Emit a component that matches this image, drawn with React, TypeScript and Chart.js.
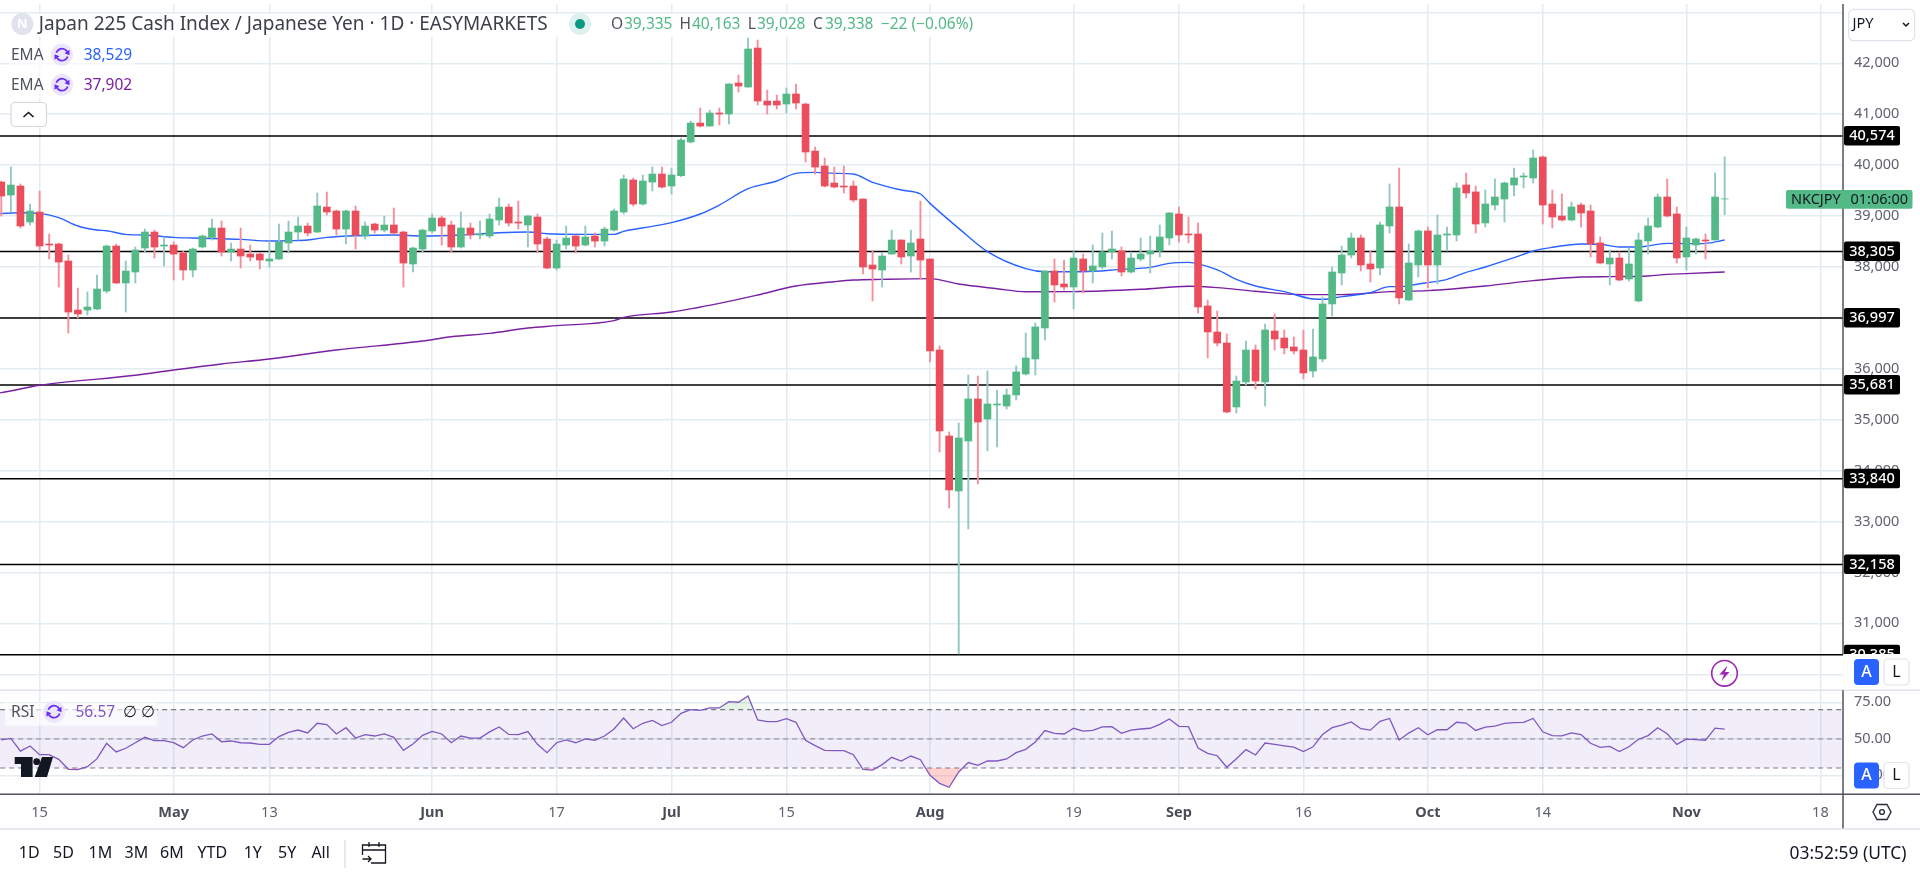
import React, { useEffect, useRef } from "react";
import { Chart, registerables } from "chart.js";

Chart.register(...registerables);

const FONT = '"Noto Sans", sans-serif';

// First candle index; tick positions are bars counted from 15 Apr.
const firstBar = -4;

const opens = [39668,39413,39590,38883,39079,38451,38451,38117,37154,37154,37174,37527,38411,37685,37901,38372,38686,38411,38431,38274,37940,38392,38581,38765,38293,38352,38254,38254,38117,38156,38470,38686,38804,38686,39177,39099,38745,39099,38608,38843,38725,38824,38686,38058,38352,38706,38961,38824,38392,38765,38627,38608,38922,39177,38883,38824,38981,38549,37979,38431,38608,38431,38608,38509,38725,39079,39708,39236,39668,39825,39590,39793,40454,40827,40768,41024,41004,41613,41534,42300,41259,41259,41200,41397,41200,40277,39983,39649,39590,39590,39334,38038,37940,38254,38529,38215,38549,38156,36370,34680,33600,34582,35407,35014,35289,35270,35486,35898,36193,36801,37921,37666,37607,38157,37921,38000,38294,38314,37901,38157,38255,38314,38569,39041,38648,38648,37234,36723,36507,35250,35741,36369,35741,36743,36605,36428,36369,35957,36193,37273,37882,38235,38569,38059,37980,38805,39178,37351,38039,38707,38039,38628,38628,39610,39473,38864,39217,39335,39610,39767,39748,40160,39237,39001,38923,39217,39099,38471,38059,38176,37764,37332,38510,38785,39374,39041,38196,38432,38530,38530,39335];
const highs = [39688,39963,39629,39236,39491,38647,38470,38234,37586,37508,37842,38431,38451,38117,38392,38745,38725,38588,38490,38313,38372,38627,38942,38902,38470,38765,38431,38274,38509,38843,38902,38981,38863,39452,39472,39118,39118,39197,38883,38863,39000,39158,38706,38392,38745,39040,39000,38902,39079,38863,38902,39040,39354,39236,39295,39020,39040,38588,38529,38804,38627,38804,38667,38784,39138,39806,39747,39806,39963,39963,39943,40533,40866,41122,41083,41122,41600,41770,42497,42457,41475,41377,41515,41593,41220,40356,40140,39963,39983,39688,39340,38313,38274,38725,38535,38725,39295,38160,36448,34759,34936,35879,35859,35957,35584,35604,36055,36703,36900,37930,38157,38137,38301,38255,38432,38667,38707,38392,38294,38569,38608,38825,39070,39178,38982,38864,37351,37135,36684,35859,36546,36468,36880,37076,36762,36625,36762,36782,37410,37999,38412,38667,38628,38314,38883,39630,39944,38451,38726,38785,39021,38785,39649,39846,39590,39512,39728,39669,39944,39846,40298,40180,39512,39433,39276,39257,39217,38589,38333,38294,38373,38667,38962,39433,39728,39178,38785,38569,38648,39846,40163];
const lows = [39000,39079,38765,38824,38333,38156,37606,36702,36997,37056,37160,37488,37675,37115,37685,38293,38176,38018,37743,37743,37802,38372,38529,38215,38117,37979,38117,37959,37999,38150,38274,38529,38608,38680,39020,38627,38451,38352,38549,38667,38686,38647,37606,37901,38293,38667,38431,38293,38372,38549,38549,38568,38824,38804,38745,38392,38293,37960,37940,38352,38274,38411,38392,38411,38706,39040,39197,39216,39491,39550,39433,39773,40434,40749,40760,40788,40808,41436,41530,41181,41004,41102,41024,41102,40061,39825,39570,39550,39452,39275,37861,37331,37606,38250,38058,37901,37763,36134,34366,33266,30399,32854,33738,34386,34464,35211,35388,35878,35878,36566,37312,37548,37175,37489,37685,37960,38157,37823,37882,38117,37882,38196,38432,38491,38471,37096,36212,36448,35132,35132,35682,35603,35270,36369,36291,36291,35800,35839,36134,37037,37646,38176,37921,37705,37842,38667,37273,37340,37803,37587,37666,38314,38510,39355,38667,38785,39119,38883,39394,39551,39649,38844,38766,38903,38903,38785,38196,38059,37646,37725,37725,37312,38255,38766,38982,38078,37941,38255,38157,38525,39028];
const closes = [39393,39609,38804,39099,38411,38431,38097,37115,37076,37213,37567,38411,37685,37920,38333,38686,38392,38431,38254,37940,38352,38608,38765,38293,38352,38215,38195,38136,38156,38490,38686,38804,38667,39197,39079,38745,39099,38627,38804,38725,38824,38667,38077,38372,38725,38961,38804,38392,38765,38627,38647,38942,39177,38863,38863,39000,38451,37979,38451,38568,38411,38588,38509,38745,39099,39727,39236,39688,39825,39570,39806,40493,40827,40768,41024,41004,41593,41554,42281,41259,41181,41181,41397,41220,40258,39963,39590,39570,39570,39315,37999,37960,38215,38529,38195,38470,38136,36350,34779,33620,34641,35407,34955,35309,35309,35486,35938,36212,36821,37921,37646,37607,38176,37921,38019,38294,38353,37901,38176,38255,38314,38589,39060,38628,38628,37214,36723,36507,35152,35760,36369,35760,36762,36585,36409,36350,35918,36232,37273,37901,38235,38569,38039,37960,38825,39178,37391,38078,38707,38039,38628,38648,39551,39453,38844,39237,39374,39649,39748,39787,40140,39217,38982,38923,39178,39060,38451,38078,38176,37744,38059,38530,38805,39374,39001,38176,38569,38550,38510,39374,39338];

const ema50Bars = [-5,-2,0,2,4,6,7,9,11,14,16,21,24,26,28,30,33,37,40,44,48,51,53,57,60,61,64,66,69,71,74,77,79,81,83,85,87,90,92,93,96,99,103,105,109,113,116,118,120,123,125,127,130,133,134,136,139,141,142,144,145,147,149,151,154,156,158,161,163,165,167,170,172,174,176];
const ema50Values = [39040,39066,39053,38968,38804,38725,38712,38640,38627,38581,38568,38542,38509,38516,38529,38581,38614,38627,38608,38627,38673,38686,38653,38640,38640,38699,38798,38870,39040,39217,39537,39688,39839,39858,39839,39825,39662,39511,39433,39249,38758,38300,37966,37907,37907,37953,37992,38071,38091,37941,37757,37626,37515,37371,37365,37417,37495,37613,37613,37666,37692,37757,37895,38000,38183,38314,38386,38451,38445,38392,38392,38464,38458,38464,38529];

const ema200Bars = [-5,-4,0,10,14,19,24,31,40,43,47,51,54,60,61,66,71,75,79,83,85,88,93,96,100,103,108,115,120,123,127,132,136,141,145,151,156,161,164,168,170,172,176];
const ema200Values = [35510,35531,35676,35872,35976,36094,36192,36369,36546,36630,36696,36801,36847,36945,37010,37115,37285,37449,37626,37711,37743,37757,37770,37665,37573,37512,37515,37561,37620,37594,37522,37456,37456,37515,37535,37626,37731,37803,37810,37823,37855,37869,37902];

const rsiValues = [49.2,50.3,41.6,45.1,39.1,39.1,35.9,29.1,28.9,30.9,36.4,46.9,41.0,43.5,47.3,51.0,48.7,48.7,47.3,43.9,49.2,51.9,53.3,48.0,48.5,47.3,47.1,46.2,46.2,51.5,54.4,56.0,54.0,60.6,59.7,53.3,57.6,50.5,52.8,51.9,53.3,51.0,42.1,46.4,52.4,55.1,53.3,47.3,51.9,50.5,50.5,54.7,58.1,53.0,52.8,54.9,46.2,40.5,47.3,49.2,47.3,49.9,49.0,51.9,56.7,64.2,56.9,60.6,62.6,59.0,61.3,67.4,69.9,69.5,71.1,71.1,75.4,75.0,79.3,62.9,61.7,61.7,63.8,61.3,49.0,45.3,42.1,41.9,41.9,39.1,29.1,28.6,32.3,37.3,34.8,38.2,35.7,25.0,19.5,16.8,27.3,33.7,31.8,34.8,34.8,36.2,40.5,42.8,47.8,55.6,53.7,53.3,57.2,55.3,55.8,58.1,58.3,53.7,56.0,56.7,57.2,59.9,63.6,58.5,58.3,43.7,40.0,38.4,30.5,36.4,42.6,38.9,47.1,46.2,45.2,44.3,41.3,44.5,52.9,57.6,59.4,61.5,56.9,55.9,62.0,63.9,49.2,53.9,57.6,52.7,56.2,56.2,61.3,60.8,55.7,58.0,58.7,60.6,61.1,61.3,63.9,54.8,52.2,52.0,54.1,52.9,46.9,44.1,44.8,41.3,44.5,49.7,52.2,57.6,53.4,46.2,49.7,49.4,49.0,57.3,56.57];

const levels = [40574, 38305, 36997, 35681, 33840, 32158, 30385];
const priceTicks = [30000,31000,32000,33000,34000,35000,36000,37000,38000,39000,40000,41000,42000,43000];
const unlabelledPriceTicks = [43000];
const rsiTicks = [25, 50, 75];
const dateTickBars = [0,14,24,41,54,66,78,93,108,119,132,145,157,172,186];
const dateTickLabels = ["15","May","13","Jun","17","Jul","15","Aug","19","Sep","16","Oct","14","Nov","18"];
const monthLabels = ["May","Jun","Jul","Aug","Sep","Oct","Nov"];
const rangeButtons = ["1D","5D","1M","3M","6M","YTD","1Y","5Y","All"];

const GREEN = "#53b987";
const RED = "#eb4d5c";
const GREEN_WICK = "#93c7c2";
const RED_WICK = "#f4909e";
const GRID = "#e3ecf1";
const AXIS = "#50535e";
const TEXT = "#131722";
const GREY = "#5f626d";
const SEP = "#e0e3eb";

const fmt = (v: number) => v.toLocaleString("en-US");

function text(ctx: any, s: string, x: number, y: number, color: string, size: number, weight = "normal", align = "left") {
  ctx.font = `${weight} ${size}px ${FONT}`;
  ctx.fillStyle = color;
  ctx.textAlign = align;
  ctx.textBaseline = "middle";
  ctx.fillText(s, x, y);
}

function roundRect(ctx: any, x: number, y: number, w: number, h: number, r: number, fill?: string, stroke?: string) {
  ctx.beginPath();
  ctx.roundRect(x, y, w, h, r);
  if (fill) { ctx.fillStyle = fill; ctx.fill(); }
  if (stroke) { ctx.strokeStyle = stroke; ctx.lineWidth = 1.2; ctx.stroke(); }
}

function reloadIcon(ctx: any, cx: number, cy: number) {
  ctx.beginPath();
  ctx.arc(cx, cy, 11, 0, Math.PI * 2);
  ctx.fillStyle = "#ece6fb";
  ctx.fill();
  ctx.strokeStyle = "#6a2df5";
  ctx.fillStyle = "#6a2df5";
  ctx.lineWidth = 1.8;
  ctx.beginPath();
  ctx.arc(cx, cy, 6, Math.PI * 1.1, Math.PI * 1.85);
  ctx.stroke();
  ctx.beginPath();
  ctx.arc(cx, cy, 6, Math.PI * 0.1, Math.PI * 0.85);
  ctx.stroke();
  ctx.beginPath();
  ctx.moveTo(cx + 7.5, cy - 5); ctx.lineTo(cx + 7.5, cy + 0.5); ctx.lineTo(cx + 2.5, cy - 1.5); ctx.closePath(); ctx.fill();
  ctx.beginPath();
  ctx.moveTo(cx - 7.5, cy + 5); ctx.lineTo(cx - 7.5, cy - 0.5); ctx.lineTo(cx - 2.5, cy + 1.5); ctx.closePath(); ctx.fill();
}

function hline(ctx: any, x0: number, x1: number, y: number, color: string, w = 1.5) {
  ctx.strokeStyle = color; ctx.lineWidth = w; ctx.beginPath(); ctx.moveTo(x0, y); ctx.lineTo(x1, y); ctx.stroke();
}
function vline(ctx: any, x: number, y0: number, y1: number, color: string, w = 1.5) {
  ctx.strokeStyle = color; ctx.lineWidth = w; ctx.beginPath(); ctx.moveTo(x, y0); ctx.lineTo(x, y1); ctx.stroke();
}

function buttonsAL(ctx: any, y: number) {
  roundRect(ctx, 1854, y, 25, 26, 4, "#2962ff");
  text(ctx, "A", 1866.5, y + 13, "#ffffff", 16, "500", "center");
  roundRect(ctx, 1884, y, 25, 26, 4, "#ffffff", SEP);
  text(ctx, "L", 1896.5, y + 13, TEXT, 16, "normal", "center");
}

const chrome = {
  id: "chrome",
  afterDraw(chart: any) {
    const { ctx, scales } = chart;
    const y = scales.y;
    ctx.save();

    // legend backgrounds
    ctx.fillStyle = "rgba(255,255,255,0.92)";
    ctx.fillRect(0, 14, 985, 23);
    ctx.fillStyle = "rgba(255,255,255,0.65)";
    ctx.fillRect(9, 40, 126, 59);
    ctx.fillRect(5, 702.7, 152, 23);

    // title row
    ctx.beginPath(); ctx.arc(22.4, 24, 11, 0, Math.PI * 2); ctx.fillStyle = "#e0e3eb"; ctx.fill();
    text(ctx, "N", 22.4, 24, "#ffffff", 13, "bold", "center");
    text(ctx, "Japan 225 Cash Index / Japanese Yen · 1D · EASYMARKETS", 38.8, 25, "#3c3f4a", 19);
    ctx.beginPath(); ctx.arc(580, 24, 11, 0, Math.PI * 2); ctx.fillStyle = "#dff1ee"; ctx.fill();
    ctx.beginPath(); ctx.arc(580, 24, 5, 0, Math.PI * 2); ctx.fillStyle = "#089981"; ctx.fill();
    const ohlc: [string, string, number, number][] = [
      ["O", "39,335", 611, 624],
      ["H", "40,163", 679.6, 692],
      ["L", "39,028", 747.8, 757],
      ["C", "39,338", 813, 825],
    ];
    ohlc.forEach(([l, v, lx, vx]) => {
      text(ctx, l, lx, 25, "#50535e", 15.5);
      text(ctx, v, vx, 25, GREEN, 15.5);
    });
    text(ctx, "−22 (−0.06%)", 880.8, 25, GREEN, 15.5);

    // EMA rows
    text(ctx, "EMA", 11, 55.7, "#50535e", 15.5);
    reloadIcon(ctx, 62, 54.7);
    text(ctx, "38,529", 83.7, 55.7, "#2962ff", 15.5);
    text(ctx, "EMA", 11, 85.7, "#50535e", 15.5);
    reloadIcon(ctx, 62, 84.7);
    text(ctx, "37,902", 83.7, 85.7, "#7b1fa2", 15.5);
    roundRect(ctx, 11, 102.5, 35.5, 24, 4, "#ffffff", "#d6d8e0");
    ctx.strokeStyle = TEXT; ctx.lineWidth = 1.6;
    ctx.beginPath(); ctx.moveTo(23.5, 117); ctx.lineTo(28.5, 112.5); ctx.lineTo(33.5, 117); ctx.stroke();

    // axis frame
    ctx.fillStyle = "#ffffff";
    ctx.fillRect(1844, 654.6, 76, 35.7);
    vline(ctx, 1843, 4, 654.6, AXIS);
    hline(ctx, 0, 1920, 690.3, SEP);
    vline(ctx, 1843, 690.3, 829, AXIS);
    hline(ctx, 0, 1920, 794.3, AXIS);
    hline(ctx, 0, 1920, 829, SEP);

    // level labels, clipped at the bottom of the price scale block
    ctx.save();
    ctx.beginPath(); ctx.rect(1843, 0, 77, 654); ctx.clip();
    levels.forEach((lv) => {
      const py = y.getPixelForValue(lv);
      roundRect(ctx, 1844, py - 10, 56, 19.5, 2, "#000000");
      text(ctx, fmt(lv), 1872, py, "#ffffff", 14.5, "500", "center");
    });
    ctx.restore();

    // last-price countdown tag
    roundRect(ctx, 1786, 190, 126.5, 18.8, 2, GREEN);
    text(ctx, "NKCJPY", 1791, 199.6, TEXT, 14.5);
    text(ctx, "01:06:00", 1908, 199.6, TEXT, 14.5, "normal", "right");

    // JPY selector
    roundRect(ctx, 1848.6, 9.3, 66, 31.4, 5, "#ffffff", SEP);
    text(ctx, "JPY", 1852.5, 24, TEXT, 14.5);
    ctx.strokeStyle = TEXT; ctx.lineWidth = 1.5;
    ctx.beginPath(); ctx.moveTo(1903, 23); ctx.lineTo(1906, 26); ctx.lineTo(1909, 23); ctx.stroke();

    buttonsAL(ctx, 659);
    buttonsAL(ctx, 762.5);

    // bolt marker
    ctx.strokeStyle = "#9c27b0"; ctx.lineWidth = 1.6;
    ctx.beginPath(); ctx.arc(1724.5, 673.3, 12.8, 0, Math.PI * 2); ctx.stroke();
    ctx.fillStyle = "#9c27b0";
    ctx.beginPath();
    ctx.moveTo(1727.5, 665.5); ctx.lineTo(1719.5, 674.5); ctx.lineTo(1724, 674.5); ctx.lineTo(1721.5, 681);
    ctx.lineTo(1729.5, 672); ctx.lineTo(1725, 672); ctx.closePath(); ctx.fill();

    // RSI legend
    text(ctx, "RSI", 11, 712.5, "#50535e", 15.5);
    reloadIcon(ctx, 54, 711.7);
    text(ctx, "56.57", 75.5, 712.5, "#7e57c2", 15.5);
    text(ctx, "∅", 123, 712.5, TEXT, 15.5);
    text(ctx, "∅", 141, 712.5, TEXT, 15.5);

    // logo
    ctx.fillStyle = TEXT;
    ctx.beginPath();
    ctx.moveTo(14.7, 757); ctx.lineTo(32.6, 757); ctx.lineTo(32.6, 777); ctx.lineTo(21, 777); ctx.lineTo(21, 764); ctx.lineTo(14.7, 764); ctx.closePath(); ctx.fill();
    ctx.beginPath(); ctx.arc(36.7, 761.7, 3.4, 0, Math.PI * 2); ctx.fill();
    ctx.beginPath(); ctx.moveTo(42, 757); ctx.lineTo(53, 757); ctx.lineTo(47, 777); ctx.lineTo(34.7, 777); ctx.closePath(); ctx.fill();

    // settings hexagon
    ctx.strokeStyle = "#2a2e39"; ctx.lineWidth = 1.4;
    ctx.beginPath();
    ctx.moveTo(1877, 804.5); ctx.lineTo(1887, 804.5); ctx.lineTo(1891, 812); ctx.lineTo(1887, 819.5); ctx.lineTo(1877, 819.5); ctx.lineTo(1873, 812); ctx.closePath(); ctx.stroke();
    ctx.beginPath(); ctx.arc(1882, 812, 2.4, 0, Math.PI * 2); ctx.stroke();

    // bottom toolbar
    const rangeX = [18.8, 53, 88.6, 124.5, 160, 197.5, 243.7, 278, 311.4];
    rangeButtons.forEach((b, i) => text(ctx, b, rangeX[i], 853, TEXT, 16));
    vline(ctx, 345, 840, 868, SEP);
    ctx.strokeStyle = TEXT; ctx.lineWidth = 1.3;
    ctx.beginPath();
    ctx.moveTo(362.5, 855); ctx.lineTo(362.5, 845); ctx.lineTo(385.5, 845); ctx.lineTo(385.5, 863); ctx.lineTo(371, 863);
    ctx.moveTo(362.5, 850); ctx.lineTo(385.5, 850);
    ctx.moveTo(369, 842); ctx.lineTo(369, 847); ctx.moveTo(379, 842); ctx.lineTo(379, 847);
    ctx.moveTo(362.5, 859); ctx.lineTo(371, 859); ctx.moveTo(368, 856); ctx.lineTo(371, 859); ctx.lineTo(368, 862);
    ctx.stroke();
    text(ctx, "03:52:59 (UTC)", 1906.5, 854, TEXT, 17.4, "normal", "right");

    ctx.restore();
  },
};

const noPadding = (s: any) => {
  s.paddingTop = 0;
  s.paddingBottom = 0;
  s.paddingLeft = 0;
  s.paddingRight = 0;
};

export default function App() {
  const ref = useRef<HTMLCanvasElement>(null);
  useEffect(() => {
    document.body.style.margin = "0";
    const barX = (i: number) => firstBar + i;
    const up = closes.map((c, i) => c >= opens[i]);
    const rsiPoints = rsiValues.map((v, i) => ({ x: barX(i), y: v }));
    const span = [-6, 190];
    const flat = (v: number) => span.map((x) => ({ x, y: v }));
    const chart = new Chart(ref.current as HTMLCanvasElement, {
      type: "bar",
      data: {
        datasets: [
          {
            label: "Candle",
            data: opens.map((o, i) => ({ x: barX(i), y: [o, closes[i]] })),
            backgroundColor: up.map((u) => (u ? GREEN : RED)),
            barThickness: 7,
            grouped: false,
            order: 1,
            yAxisID: "y",
          },
          {
            label: "Wick",
            data: lows.map((l, i) => ({ x: barX(i), y: [l, highs[i]] })),
            backgroundColor: up.map((u) => (u ? GREEN_WICK : RED_WICK)),
            barThickness: 1.25,
            grouped: false,
            order: 2,
            yAxisID: "y",
          },
          {
            type: "line",
            label: "EMA 50",
            data: ema50Bars.map((x, i) => ({ x, y: ema50Values[i] })),
            borderColor: "#2962ff",
            borderWidth: 1.4,
            pointRadius: 0,
            cubicInterpolationMode: "monotone",
            order: 3,
            yAxisID: "y",
          },
          {
            type: "line",
            label: "EMA 200",
            data: ema200Bars.map((x, i) => ({ x, y: ema200Values[i] })),
            borderColor: "#7b1fa2",
            borderWidth: 1.4,
            pointRadius: 0,
            cubicInterpolationMode: "monotone",
            order: 3,
            yAxisID: "y",
          },
          ...levels.map((lv) => ({
            type: "line",
            label: `Level ${lv}`,
            data: flat(lv),
            borderColor: "#000000",
            borderWidth: 1.5,
            pointRadius: 0,
            order: 4,
            yAxisID: "y",
          })),
          {
            type: "line",
            label: "RSI",
            data: rsiPoints,
            borderColor: "#7e57c2",
            borderWidth: 1.3,
            pointRadius: 0,
            order: 5,
            yAxisID: "rsi",
          },
          {
            type: "line",
            label: "RSI overbought",
            data: rsiPoints,
            borderWidth: 0,
            pointRadius: 0,
            fill: { target: { value: 70 }, above: "rgba(76,175,80,0.14)", below: "rgba(0,0,0,0)" },
            order: 6,
            yAxisID: "rsi",
          },
          {
            type: "line",
            label: "RSI oversold",
            data: rsiPoints,
            borderWidth: 0,
            pointRadius: 0,
            fill: { target: { value: 30 }, above: "rgba(0,0,0,0)", below: "rgba(255,82,82,0.26)" },
            order: 6,
            yAxisID: "rsi",
          },
          {
            type: "line",
            label: "Upper band",
            data: flat(70),
            borderColor: "#787b86",
            borderWidth: 1.2,
            borderDash: [5, 4],
            pointRadius: 0,
            fill: { target: { value: 30 }, above: "rgba(126,87,194,0.1)", below: "rgba(126,87,194,0.1)" },
            order: 7,
            yAxisID: "rsi",
          },
          {
            type: "line",
            label: "Middle band",
            data: flat(50),
            borderColor: "rgba(120,123,134,0.7)",
            borderWidth: 1.2,
            borderDash: [5, 4],
            pointRadius: 0,
            order: 7,
            yAxisID: "rsi",
          },
          {
            type: "line",
            label: "Lower band",
            data: flat(30),
            borderColor: "#787b86",
            borderWidth: 1.2,
            borderDash: [5, 4],
            pointRadius: 0,
            order: 7,
            yAxisID: "rsi",
          },
        ] as any,
      },
      options: {
        responsive: false,
        animation: false,
        devicePixelRatio: 1,
        layout: { padding: { top: 4, bottom: 44, left: 0, right: 0 } },
        plugins: { legend: { display: false }, tooltip: { enabled: false } },
        scales: {
          x: {
            type: "linear",
            offset: false,
            min: -4.136,
            max: 188.36,
            afterBuildTicks: (s: any) => { s.ticks = dateTickBars.map((value) => ({ value })); },
            afterFit: (s: any) => { s.height = 35; noPadding(s); },
            grid: { color: GRID, lineWidth: 1.5, drawTicks: false, offset: false },
            border: { display: false },
            ticks: {
              autoSkip: false,
              maxRotation: 0,
              padding: 10,
              color: (c: any) => (monthLabels.includes(dateTickLabels[c.index]) ? "#4a4d58" : GREY),
              font: (c: any) => ({
                family: FONT,
                size: 14.5,
                weight: monthLabels.includes(dateTickLabels[c.index]) ? "bold" : "normal",
              }),
              callback: (_v: any, i: number) => dateTickLabels[i],
            },
          },
          y: {
            type: "linear",
            position: "right",
            stack: "panes",
            stackWeight: 686,
            min: 29691,
            max: 43165,
            afterBuildTicks: (s: any) => { s.ticks = priceTicks.map((value) => ({ value })); },
            afterFit: (s: any) => { s.width = 77; noPadding(s); },
            grid: { color: GRID, lineWidth: 1.5, drawTicks: false },
            border: { display: false },
            ticks: {
              autoSkip: false,
              padding: 11,
              color: GREY,
              font: { family: FONT, size: 14.5 },
              callback: (v: any) => (unlabelledPriceTicks.includes(v) ? "" : fmt(v)),
            },
          },
          rsi: {
            type: "linear",
            position: "right",
            stack: "panes",
            stackWeight: 104,
            min: 12.2,
            max: 83.4,
            afterBuildTicks: (s: any) => { s.ticks = rsiTicks.map((value) => ({ value })); },
            afterFit: (s: any) => { s.width = 77; noPadding(s); },
            grid: { color: GRID, lineWidth: 1.5, drawTicks: false },
            border: { display: false },
            ticks: {
              autoSkip: false,
              padding: 11,
              color: GREY,
              font: { family: FONT, size: 14.5 },
              callback: (v: any) => Number(v).toFixed(2),
            },
          },
        },
      } as any,
      plugins: [chrome],
    });
    return () => chart.destroy();
  }, []);
  return (
    <canvas
      ref={ref}
      width={1920}
      height={873}
      style={{ display: "block", position: "fixed", left: 0, top: 0, width: 1920, height: 873 }}
    />
  );
}
